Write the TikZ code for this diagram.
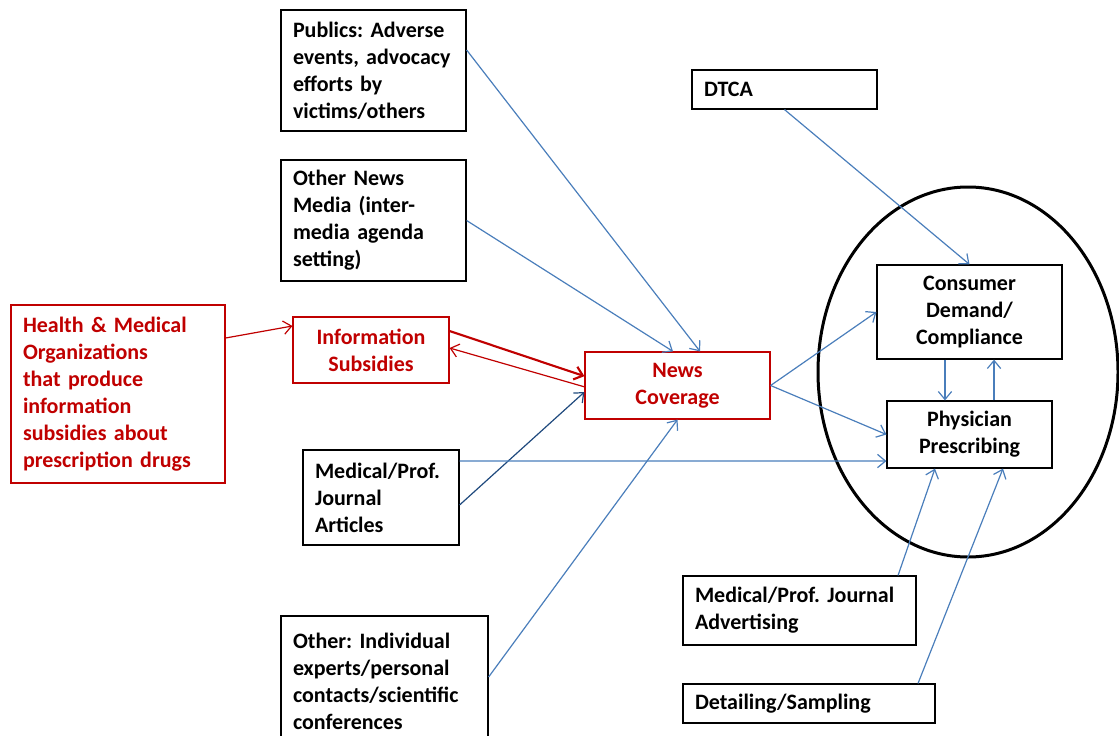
\documentclass[tikz,border=0pt]{standalone}
\usepackage{fontspec}
\setmainfont{Carlito}
\usetikzlibrary{arrows.meta}
\definecolor{linkblue}{RGB}{74,126,187}
\definecolor{darklink}{RGB}{31,73,125}
\definecolor{boxred}{RGB}{192,0,0}
\tikzset{
  box/.style={draw=black, line width=0.9pt, inner xsep=9pt, inner ysep=2pt, align=left,
    font=\fontsize{16.5}{20.25}\selectfont\bfseries},
  redbox/.style={box, draw=boxred, text=boxred},
  link/.style={draw=linkblue, line width=0.9pt, -{Straight Barb[length=6pt,width=10pt]}},
  redlink/.style={link, draw=boxred}
}
\begin{document}
\begin{tikzpicture}[x=0.75pt,y=-0.75pt]
\useasboundingbox (0,0) rectangle (1119,735);
\clip (0,0) rectangle (1119,735);
\draw[line width=2.25pt] (968,372) ellipse [x radius=150, y radius=185];
\node[redbox, text width=142.5pt, minimum height=133.5pt] (health) at (118,394)
  {Health \& Medical\\Organizations\\that produce\\information\\subsidies~about\\prescription~drugs};
\node[redbox, align=center, text width=99pt, minimum height=49.5pt] (infosub) at (371,350) {Information\\Subsidies};
\node[redbox, align=center, text width=120.75pt, minimum height=50.25pt] (news) at (677.5,385.5) {News\\Coverage};
\node[box, text width=120.75pt, minimum height=90.75pt] (publics) at (373.5,70.5)
  {Publics:~Adverse\\events,~advocacy\\efforts by\\victims/others};
\node[box, text width=120.75pt, minimum height=90.75pt] (othernews) at (373.5,220.5)
  {Other News\\Media (inter-\\media~agenda\\setting)};
\node[box, text width=120.75pt, minimum height=29.25pt] (dtca) at (784.5,89.5) {DTCA};
\node[box, align=center, text width=120.75pt, minimum height=70.5pt] (consumer) at (969.5,312)
  {Consumer\\Demand/\\Compliance};
\node[box, align=center, text width=105.75pt, minimum height=50.25pt] (physician) at (969.5,434.5)
  {Physician\\Prescribing};
\node[box, text width=99pt, minimum height=71.25pt] (jarticles) at (381,497.5)
  {Medical/Prof.\\Journal\\Articles};
\node[box, text width=137.25pt, minimum height=97.5pt] (experts) at (384.5,681)
  {Other:~Individual\\experts/personal\\contacts/scientific\\conferences};
\node[box, text width=156.75pt, minimum height=51.75pt] (jadvert) at (799.5,610.5)
  {Medical/Prof.~Journal\\Advertising};
\node[box, text width=171pt, minimum height=29.25pt] (detailing) at (809,703.5) {Detailing/Sampling};
\draw[redlink] ([yshift=42pt]health.east) -- ([yshift=18pt]infosub.west);
\draw[redlink, line width=1.6pt] ([yshift=14.25pt]infosub.east) -- ([yshift=7pt]news.west);
\draw[redlink] ([yshift=-1pt]news.west) -- ([yshift=1.5pt]infosub.east);
\draw[link] ([yshift=15.4pt]publics.east) -- ([xshift=16.9pt]news.north);
\draw[link] (othernews.east) -- ([xshift=-3.4pt]news.north);
\draw[link, draw=darklink] ([yshift=-5.6pt]jarticles.east) -- ([yshift=-4.9pt]news.west);
\draw[link] ([yshift=27.4pt]jarticles.east) -- ([yshift=-19.9pt]physician.west);
\draw[link] ([yshift=3pt]experts.east) -- (news.south);
\draw[link] (news.east) -- (consumer.west);
\draw[link] (news.east) -- (physician.west);
\draw[link] (dtca.south) -- (consumer.north);
\draw[link] ([xshift=-18.4pt]consumer.south) -- ([xshift=-18.4pt]physician.north);
\draw[link] ([xshift=18.4pt]physician.north) -- ([xshift=18.4pt]consumer.south);
\draw[link] ([xshift=73.9pt]jadvert.north) -- ([xshift=-25.9pt]physician.south);
\draw[link] ([xshift=81.75pt]detailing.north) -- ([xshift=25.1pt]physician.south);
\end{tikzpicture}
\end{document}
